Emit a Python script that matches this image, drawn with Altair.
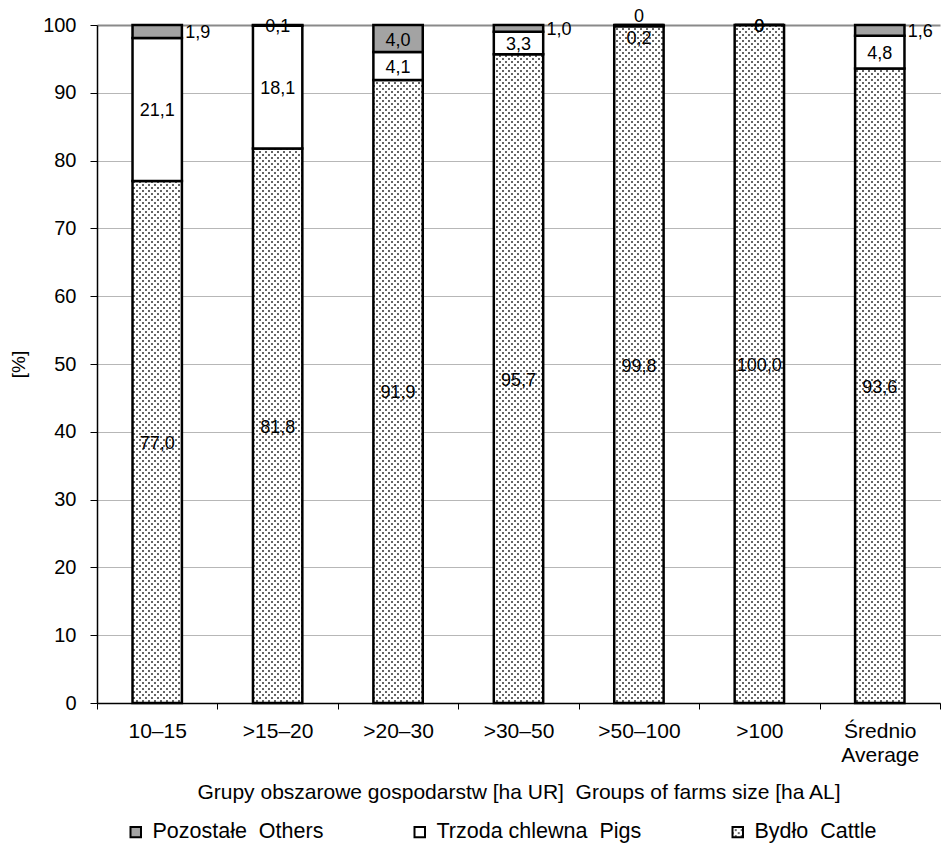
import altair as alt
import pandas as pd
from altair.utils.html import TEMPLATES

# Farm-size groups and the share of each livestock kind [%]
groups = ["10–15", ">15–20", ">20–30", ">30–50", ">50–100", ">100", "Średnio\nAverage"]
cattle = [77.0, 81.8, 91.9, 95.7, 99.8, 100.0, 93.6]
pigs = [21.1, 18.1, 4.1, 3.3, 0.2, 0.0, 4.8]
others = [1.9, 0.1, 4.0, 1.0, 0.0, 0.0, 1.6]

series_names = ["Bydło\u00a0 Cattle", "Trzoda chlewna\u00a0 Pigs", "Pozostałe\u00a0 Others"]
legend_order = [series_names[2], series_names[1], series_names[0]]
y_ticks = list(range(0, 101, 10))

FONT = "Liberation Sans"
GREY = "#a3a3a3"

# where a value label sits relative to its segment (default: centred inside)
label_place = {
    (0, 2): "right",
    (3, 2): "right",
    (6, 2): "right",
    (4, 2): "above",
    (4, 1): "below",
}


def fmt(v):
    return "0" if v == 0 else f"{v:.1f}".replace(".", ",")


rows = []
for i, g in enumerate(groups):
    lo = 0.0
    for s, vals in enumerate([cattle, pigs, others]):
        v = vals[i]
        hi = lo + v
        rows.append({
            "group": g,
            "series": series_names[s],
            "lo": lo,
            "hi": hi,
            "mid": (lo + hi) / 2,
            "label": fmt(v),
            "place": label_place.get((i, s), "in"),
        })
        lo = hi
df = pd.DataFrame(rows)

x_enc = alt.X(
    "group:N",
    sort=groups,
    scale=alt.Scale(paddingInner=0, paddingOuter=0),
    axis=alt.Axis(
        title="Grupy obszarowe gospodarstw [ha UR]\u00a0 Groups of farms size [ha AL]",
        labelAngle=0,
        labelExpr="split(datum.label, '\\n')",
        labelFontSize=21,
        labelLineHeight=24,
        labelPadding=11,
        labelColor="black",
        tickBand="extent",
        tickSize=6,
        tickColor="black",
        tickWidth=1,
        domainColor="black",
        domainWidth=1.5,
        titleFontSize=21,
        titleFontWeight="normal",
        titleColor="black",
        titleBaseline="top",
        titleY=78,
        grid=False,
    ),
)

y_scale = alt.Scale(domain=[0, 100], nice=False)
Y_TITLE = "[%]"

bars = alt.Chart(df).mark_bar(
    width=alt.RelativeBandSize(0.41), stroke="black", strokeWidth=2.5
).encode(
    x=x_enc,
    y=alt.Y(
        "lo:Q",
        stack=None,
        scale=y_scale,
        title=Y_TITLE,
        axis=alt.Axis(
            values=y_ticks,
            labelFontSize=20,
            labelPadding=14,
            labelColor="black",
            tickSize=7,
            tickColor="black",
            domainColor="black",
            domainWidth=1.5,
            grid=True,
            gridColor=alt.condition("datum.value === 100", alt.value("#8a8a8a"), alt.value("#6e6e6e")),
            gridDash=alt.condition("datum.value === 100", alt.value([]), alt.value([1, 1])),
            gridWidth=alt.condition("datum.value === 100", alt.value(2), alt.value(1)),
            titleFontSize=19,
            titleFontWeight="normal",
            titleColor="black",
            titleAngle=270,
            titleBaseline="middle",
            titleX=-79,
            titleY=339,
        ),
    ),
    y2="hi:Q",
    color=alt.Color(
        "series:N",
        scale=alt.Scale(domain=legend_order, range=[GREY, "white", "url(#dots)"]),
        legend=alt.Legend(
            title=None,
            orient="none",
            direction="horizontal",
            columns=3,
            legendX=28,
            legendY=796,
            padding=0,
            labelFontSize=21.5,
            labelColor="black",
            labelLimit=400,
            labelOffset=6,
            columnPadding=85,
            symbolType="square",
            symbolSize=110,
            symbolStrokeColor="black",
            symbolStrokeWidth=2,
        ),
    ),
)


def labels(place, **kw):
    return alt.Chart(df).transform_filter(alt.datum.place == place).mark_text(
        font=FONT, fontSize=18, color="black", baseline="middle", **kw
    ).encode(
        x=x_enc,
        y=alt.Y("mid:Q", scale=y_scale, title=Y_TITLE),
        text="label:N",
    )


chart = alt.layer(
    bars,
    labels("in", dy=2),
    labels("right", align="left", dx=28, dy=2),
    labels("above", dy=-8),
    labels("below", dy=13),
).properties(
    width=843,
    height=678,
    autosize=alt.AutoSizeParams(type="none"),
    padding={"left": 97, "top": 25, "right": 1, "bottom": 140},
).configure(
    font=FONT,
).configure_view(
    stroke=None,
)

# dotted fill used by the cattle segments
PATTERN_DEFS = (
    '<svg width="0" height="0" style="position:absolute">'
    '<defs><pattern id="dots" width="6" height="6" patternUnits="userSpaceOnUse">'
    '<rect width="6" height="6" fill="white"/>'
    '<circle cx="1" cy="1" r="0.95" fill="#222"/>'
    '<circle cx="4" cy="4" r="0.95" fill="#222"/>'
    '</pattern></defs></svg>'
)


class PatternPage:
    """Standard page template with the pattern definitions added to the body."""

    def __init__(self, base):
        self.base = base

    def render(self, **kw):
        html = self.base.render(**kw)
        if "<body>" in html:
            return html.replace("<body>", "<body>\n" + PATTERN_DEFS, 1)
        return PATTERN_DEFS + html


chart.save(
    "out.html",
    embed_options={"renderer": "svg", "actions": False},
    template=PatternPage(TEMPLATES["standard"]),
)
